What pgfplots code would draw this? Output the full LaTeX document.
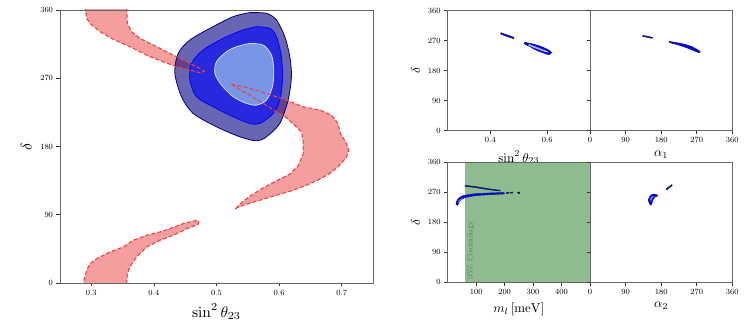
\documentclass[border=0pt]{standalone}
\usepackage{pgfplots}
\pgfplotsset{compat=1.18}
\usepackage{pgfplotstable}

\definecolor{bandfill}{RGB}{244,158,158}
\definecolor{bandedge}{RGB}{240,64,64}
\definecolor{navyc}{RGB}{0,0,128}
\definecolor{midfill}{RGB}{40,40,222}
\definecolor{innerfill}{RGB}{120,150,230}
\definecolor{inneredge}{RGB}{205,218,255}
\definecolor{cosmo}{RGB}{143,188,143}
\definecolor{cosmotext}{RGB}{80,140,80}
\definecolor{blobdark}{RGB}{15,25,110}

% red band (sin^2 theta23, delta), three closed pieces
\pgfplotstableread{
x y
0.2900 365
0.2926 349.0
0.2979 342.4
0.3138 331.4
0.3351 321.3
0.3617 311.6
0.3936 298.4
0.4149 291.8
0.4362 285.2
0.4575 280.8
0.4734 277.3
0.4803 279.0
0.4734 283.0
0.4575 289.6
0.4362 298.4
0.4149 307.2
0.3936 316.0
0.3777 322.6
0.3644 331.4
0.3575 342.4
0.3564 365
}\bandA
\pgfplotstableread{
x y
0.5239 262.3
0.5532 256.6
0.5798 250.0
0.6117 241.2
0.6384 232.4
0.6650 228.0
0.6836 221.4
0.6942 210.4
0.6979 197.2
0.7075 184.0
0.7112 175.2
0.7075 165.5
0.6942 153.2
0.6809 144.4
0.6650 136.9
0.6437 128.9
0.6224 122.3
0.5958 115.7
0.5692 109.1
0.5479 103.9
0.5330 99.5
0.5293 96.8
0.5373 103.9
0.5532 114.4
0.5745 125.4
0.5958 134.7
0.6171 143.5
0.6304 154.5
0.6384 169.9
0.6384 186.2
0.6357 199.4
0.6277 206.0
0.6064 221.4
0.5958 225.8
0.5745 236.8
0.5532 247.8
0.5319 257.9
0.5239 262.3
}\bandB
\pgfplotstableread{
x y
0.2872 -5
0.2883 3.5
0.2926 16.7
0.2979 25.5
0.3085 32.1
0.3298 40.9
0.3511 47.5
0.3670 56.3
0.3883 62.9
0.4096 67.3
0.4255 71.7
0.4468 78.3
0.4681 82.7
0.4718 81.0
0.4708 77.5
0.4521 71.3
0.4309 62.9
0.4096 56.3
0.3883 47.5
0.3723 34.3
0.3617 21.1
0.3575 12.3
0.3564 -5
}\bandC

\pgfplotsset{
  panel/.style={
    scale only axis, axis on top, clip=true,
    tick align=outside, tick pos=left,
    major tick length=3.5bp,
    tick style={black!80, line width=0.6bp},
    axis line style={black!60, line width=0.8bp},
    ticklabel style={font=\fontsize{8}{9}\selectfont},
    ymin=0, ymax=360, ytick={0,90,180,270,360},
  },
  small/.style={panel, width=142.3bp, height=120bp,
    label style={font=\normalsize, scale=1.3}},
}

\begin{document}
\begin{tikzpicture}
\useasboundingbox (0,0) rectangle (747bp,329bp);

% main panel
\begin{axis}[panel, at={(60bp,46bp)}, anchor=south west,
  width=313bp, height=273bp,
  xmin=0.25, xmax=0.75, xtick={0.3,0.4,0.5,0.6,0.7},
  xlabel={$\sin^2\theta_{23}$}, ylabel={$\delta$},
  label style={font=\normalsize, scale=1.55}]
\addplot[fill=bandfill, draw=none] table {\bandA};
\addplot[fill=bandfill, draw=none] table {\bandB};
\addplot[fill=bandfill, draw=none] table {\bandC};
% outer contour
\addplot[fill=navyc, fill opacity=0.6, draw=navyc, line width=0.8bp, smooth, tension=0.5] coordinates {
(0.5532,356.5) (0.5798,355.6) (0.5958,346.8) (0.6091,324.8) (0.6171,298.4)
(0.6197,272.0) (0.6144,241.2) (0.6011,210.4) (0.5798,192.8) (0.5639,187.5)
(0.5373,192.8) (0.5000,206.0) (0.4628,223.6) (0.4442,245.6) (0.4335,276.4)
(0.4388,302.8) (0.4575,320.4) (0.4894,335.8) (0.5266,351.2) (0.5532,356.5)};
% middle contour
\addplot[fill=midfill, draw=blue, line width=0.8bp, smooth, tension=0.5] coordinates {
(0.5639,338.0) (0.5852,335.8) (0.5958,324.8) (0.6037,298.4) (0.6053,267.6)
(0.6011,241.2) (0.5905,223.6) (0.5692,210.4) (0.5532,210.4) (0.5266,219.2)
(0.4947,232.4) (0.4681,245.6) (0.4575,267.6) (0.4601,289.6) (0.4787,307.2)
(0.5106,322.6) (0.5426,333.6) (0.5639,338.0)};
% inner contour
\addplot[fill=innerfill, draw=inneredge, line width=0.8bp, smooth, tension=0.5] coordinates {
(0.5532,316.0) (0.5745,313.8) (0.5878,300.6) (0.5915,280.8) (0.5894,258.8)
(0.5798,241.2) (0.5639,234.6) (0.5479,236.8) (0.5266,245.6) (0.5080,261.0)
(0.4974,276.4) (0.5000,291.8) (0.5160,305.0) (0.5319,311.6) (0.5532,316.0)};
% dashed band outlines
\addplot[draw=bandedge, line width=1.1bp, dash pattern=on 4bp off 2.2bp] table {\bandA};
\addplot[draw=bandedge, line width=1.1bp, dash pattern=on 4bp off 2.2bp] table {\bandB};
\addplot[draw=bandedge, line width=1.1bp, dash pattern=on 4bp off 2.2bp] table {\bandC};
\end{axis}

% top left small: sin^2 theta23
\begin{axis}[small, at={(447.7bp,198.3bp)}, anchor=south west,
  xmin=0.25, xmax=0.75, xtick={0.4,0.6},
  xlabel={$\sin^2\theta_{23}$}, ylabel={$\delta$}]
\addplot[fill=blue, draw=blobdark, line width=0.5bp] coordinates {
(0.437,294) (0.460,287) (0.483,280) (0.482,276) (0.460,282) (0.436,290) (0.437,294)};
\addplot[fill=blue, draw=blobdark, line width=0.5bp, smooth, tension=0.4] coordinates {
(0.520,265) (0.550,260) (0.580,252) (0.605,242) (0.615,234) (0.606,228)
(0.590,232) (0.560,242) (0.535,254) (0.519,261) (0.520,265)};
\addplot[fill=innerfill, draw=inneredge, line width=0.4bp, smooth, tension=0.4] coordinates {
(0.535,259) (0.560,251) (0.590,241) (0.602,236) (0.585,239) (0.555,249) (0.535,256) (0.535,259)};
\end{axis}

% top right small: alpha1
\begin{axis}[small, at={(590bp,198.3bp)}, anchor=south west,
  xmin=0, xmax=360, xtick={0,90,180,270,360}, yticklabels={},
  xlabel={$\alpha_1$}]
\addplot[fill=blue, draw=blobdark, line width=0.5bp] coordinates {
(134,286) (146,283) (158,280) (157,277) (145,280) (133,283) (134,286)};
\addplot[fill=blue, draw=blobdark, line width=0.5bp, smooth, tension=0.4] coordinates {
(200,268) (220,264) (240,259) (260,251) (278,238) (276,234)
(255,244) (235,253) (215,260) (200,265) (200,268)};
\end{axis}

% bottom left small: m_l
\begin{axis}[small, at={(447.7bp,46.7bp)}, anchor=south west,
  xmin=0, xmax=500, xtick={100,200,300,400},
  xlabel={$m_l\,[\mathrm{meV}]$}, ylabel={$\delta$}]
\addplot[fill=cosmo, draw=none] coordinates {(61,0) (61,360) (500,360) (500,0)} \closedcycle;
\node[rotate=90, anchor=north west, text=cosmotext, inner sep=1bp,
  font=\footnotesize] at (axis cs:62,4) {95\% Cosmology};
\addplot[fill=blobdark, draw=blobdark, line width=0.5bp] coordinates {
(61,291) (100,287) (140,281) (185,276) (185,274) (140,278) (100,284) (61,288) (61,291)};
\addplot[fill=blue, draw=blobdark, line width=0.5bp, smooth, tension=0.4] coordinates {
(30,240) (36,250) (48,258) (65,262) (100,266) (150,268) (196,269)
(196,265) (150,263) (100,260) (65,255) (48,249) (40,240) (35,231) (30,234) (30,240)};
\addplot[fill=innerfill, draw=none, smooth] coordinates {
(35,238) (41,247) (51,253) (47,249) (39,240) (35,238)};
\addplot[fill=blobdark, draw=blobdark, line width=0.5bp] coordinates {
(206,266) (216,268) (216,270) (206,269) (206,266)};
\addplot[fill=blobdark, draw=blobdark, line width=0.5bp] coordinates {
(221,267) (229,268) (229,271) (221,270) (221,267)};
\addplot[fill=blobdark, draw=blobdark, line width=0.5bp] coordinates {
(246,268) (252,268) (252,271) (246,271) (246,268)};
\end{axis}

% bottom right small: alpha2
\begin{axis}[small, at={(590bp,46.7bp)}, anchor=south west,
  xmin=0, xmax=360, xtick={0,90,180,270,360}, yticklabels={},
  xlabel={$\alpha_2$}]
\addplot[fill=blue, draw=blobdark, line width=0.5bp, smooth, tension=0.4] coordinates {
(170.3,261.9) (160.2,264.9) (151.8,258.9) (147.6,246.9) (150.1,236.9) (154.4,230.9)
(156.9,238.9) (160.2,248.9) (165.3,256.9) (171.3,258.9) (170.3,261.9)};
\addplot[fill=innerfill, draw=none, smooth] coordinates {
(152,250) (156,257) (162,258) (157,251) (154,243) (152,250)};
\addplot[fill=blue, draw=blobdark, line width=0.5bp] coordinates {
(192,280) (200,287) (207,293) (208,290) (201,284) (194,277) (192,280)};
\end{axis}
\end{tikzpicture}
\end{document}
